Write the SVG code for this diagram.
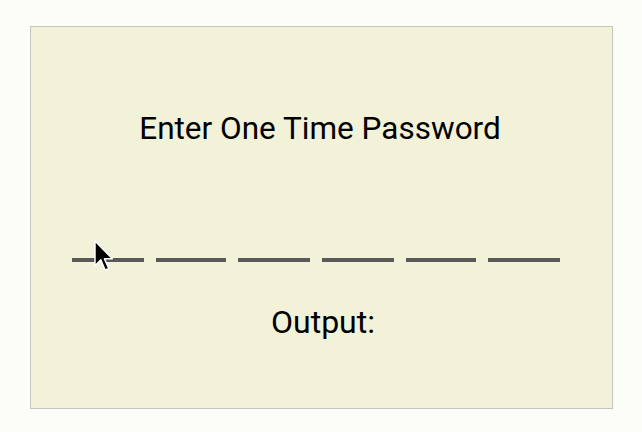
<svg xmlns="http://www.w3.org/2000/svg" width="642" height="432" viewBox="0 0 642 432">
<style>
.label{font-family:Roboto,"Liberation Sans",sans-serif;font-size:31.5px;fill:#000;text-anchor:middle}
.dash{stroke:#595959;stroke-width:4;stroke-linecap:butt}
</style>
<rect x="0" y="0" width="642" height="432" fill="#fdfdf8"/>
<g id="panel">
<rect x="30.5" y="26.5" width="582" height="382" fill="#f2f2d8" stroke="#c4c4c0" stroke-width="1"/>
</g>
<g id="title"><text class="label" x="320" y="139">Enter One Time Password</text></g>
<g id="otp-fields">
<line class="dash" x1="72" y1="260" x2="144" y2="260"/>
<line class="dash" x1="156" y1="260" x2="226" y2="260"/>
<line class="dash" x1="238" y1="260" x2="310" y2="260"/>
<line class="dash" x1="322" y1="260" x2="394" y2="260"/>
<line class="dash" x1="406" y1="260" x2="476" y2="260"/>
<line class="dash" x1="488" y1="260" x2="560" y2="260"/>
</g>
<g id="output"><text class="label" x="323" y="333" style="font-size:32px">Output:</text></g>
<g id="cursor" transform="translate(95,241) scale(1.45)">
<path d="M0,0 L0,17 L4,13 L7,20 L9.5,19 L6.5,12.3 L12,12.3 Z" fill="#000" stroke="#fff" stroke-width="1" stroke-linejoin="round"/>
</g>
<g id="connectors"></g>
</svg>
